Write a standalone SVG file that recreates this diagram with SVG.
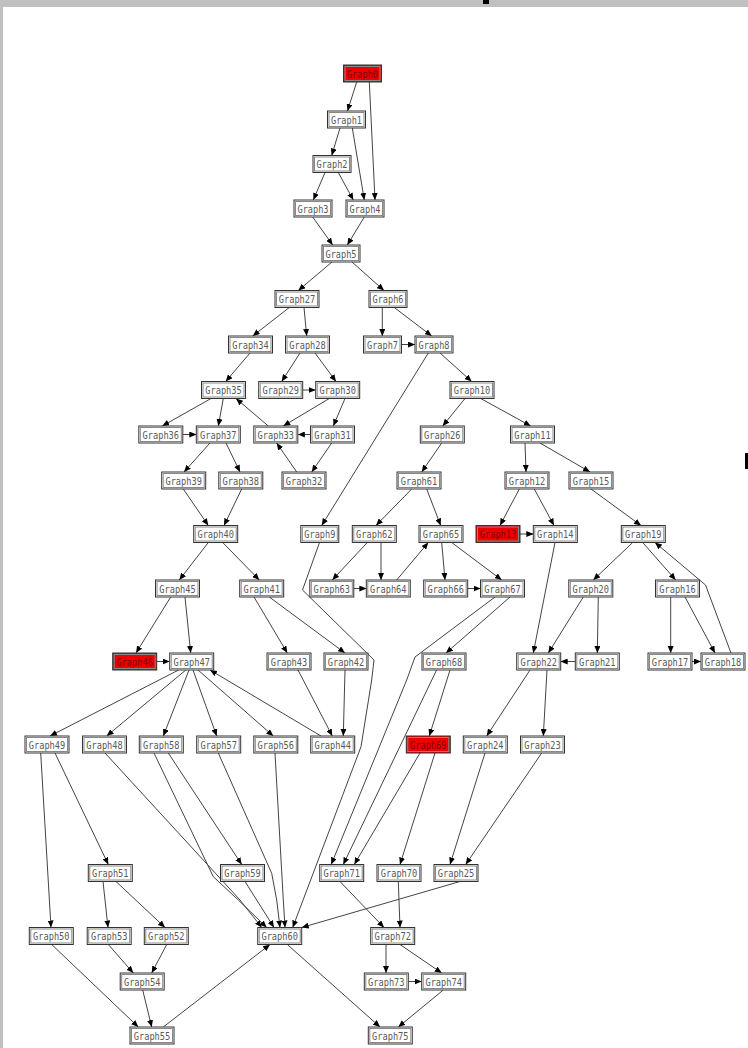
<svg xmlns="http://www.w3.org/2000/svg" width="748" height="1048" viewBox="0 0 748 1048">
<style>
.bg{fill:#fff}
.frame{fill:#c0c0c0}
.node rect.o{fill:#fff;stroke:#333;stroke-width:1}
.node rect.i{fill:none;stroke:#888;stroke-width:1}
.node.red rect.o{fill:#ee0000}
.node text{font-family:"DejaVu Sans Mono","Liberation Mono",monospace;font-size:10.5px;fill:#5a5a5a;text-anchor:middle}
.node.red text{fill:#800000}
#edges polyline{fill:none;stroke:#444;stroke-width:1;marker-end:url(#arr)}
</style>
<defs>
<marker id="arr" markerUnits="userSpaceOnUse" markerWidth="7" markerHeight="6" refX="7" refY="3" orient="auto"><path d="M0,0 L7,3 L0,6 z" fill="#000"/></marker>
</defs>
<rect class="bg" x="0" y="0" width="748" height="1048"/>
<rect class="frame" x="0" y="0" width="748" height="7"/>
<rect class="frame" x="0" y="0" width="3" height="1048"/>
<rect x="483" y="0" width="6" height="4" fill="#000"/>
<rect x="745" y="453" width="3" height="16" fill="#000"/>
<g id="edges">
<polyline points="356.7,82 347.5,111"/>
<polyline points="369.3,82 375,200"/>
<polyline points="340,128 331.7,155.5"/>
<polyline points="352.3,128 364.3,200"/>
<polyline points="325,172.5 313.3,200"/>
<polyline points="338.3,172.5 353.3,200"/>
<polyline points="312.7,217 332.7,245"/>
<polyline points="364.3,217 347.3,245"/>
<polyline points="332,262 298.3,290.5"/>
<polyline points="352,262 384,290.5"/>
<polyline points="289.3,307.5 252.7,336"/>
<polyline points="304,307.5 306.7,336"/>
<polyline points="382.3,307.5 382.3,336"/>
<polyline points="394.3,307.5 431.7,336"/>
<polyline points="401.5,344.5 415,344.5"/>
<polyline points="250,353 225.7,381.5"/>
<polyline points="300,353 281.7,381.5"/>
<polyline points="315,353 336,381.5"/>
<polyline points="302.7,390 315.7,390"/>
<polyline points="440,353 471.7,381.5"/>
<polyline points="428.3,353 321.7,525.5"/>
<polyline points="211,398.5 162.3,426"/>
<polyline points="223.3,398.5 218.3,426"/>
<polyline points="268.3,426 236,398.5"/>
<polyline points="329.3,398.5 283.3,426"/>
<polyline points="345,398.5 333.3,426"/>
<polyline points="310.5,434.5 297.8,434.5"/>
<polyline points="182.8,434.5 196.3,434.5"/>
<polyline points="331.7,443 311.7,472"/>
<polyline points="296.7,472 276.7,443"/>
<polyline points="210,443 184,472"/>
<polyline points="226,443 240,472"/>
<polyline points="465,398.5 442.7,426"/>
<polyline points="480.7,398.5 530.7,426"/>
<polyline points="441.7,443 421.7,472"/>
<polyline points="525,443 526,472"/>
<polyline points="540,443 590,472"/>
<polyline points="183.3,489 208.3,525.5"/>
<polyline points="241.7,489 224,525.5"/>
<polyline points="411.7,489 376,525.5"/>
<polyline points="426.7,489 440.7,525.5"/>
<polyline points="519.3,489 500,525.5"/>
<polyline points="534.3,489 554,525.5"/>
<polyline points="520,534 533.3,534"/>
<polyline points="591,489 641,525.5"/>
<polyline points="208.3,542.5 179.3,580"/>
<polyline points="222.7,542.5 259.3,580"/>
<polyline points="367.3,542.5 332.3,580"/>
<polyline points="381,542.5 381,580"/>
<polyline points="353.8,588.5 366.3,588.5"/>
<polyline points="396.7,580 428.3,542.5"/>
<polyline points="441.7,542.5 445,580"/>
<polyline points="451.7,542.5 501.7,580"/>
<polyline points="467.7,588.5 480.5,588.5"/>
<polyline points="632.7,542.5 593.3,580"/>
<polyline points="642.7,542.5 675.7,580"/>
<polyline points="731,653 705.5,585 655,542.5"/>
<polyline points="555,542.5 533.3,653"/>
<polyline points="170.7,597 136,653"/>
<polyline points="185,597 190.7,653"/>
<polyline points="156.7,661.5 169.7,661.5"/>
<polyline points="254,597 287.3,653"/>
<polyline points="269.3,597 345,653"/>
<polyline points="510,597 446,653"/>
<polyline points="495,597 415,657 406.7,680 331.2,864.5"/>
<polyline points="319.5,542.5 302.5,590 374,660 371.7,680 361,746.7 292.7,927.5"/>
<polyline points="583.3,597 548.3,653"/>
<polyline points="598.3,597 597.3,653"/>
<polyline points="575.3,661.5 560.7,661.5"/>
<polyline points="670.7,597 670.7,653"/>
<polyline points="685,597 715,653"/>
<polyline points="692,661.5 701,661.5"/>
<polyline points="450,670 429.3,736"/>
<polyline points="436.6,670 343.3,864.5"/>
<polyline points="530,670 486.7,736"/>
<polyline points="547,670 543.3,736"/>
<polyline points="345,670 343.3,736"/>
<polyline points="298,670 332.3,736"/>
<polyline points="321,736 210,670"/>
<polyline points="178.6,670 50,736"/>
<polyline points="185.8,670 106.7,736"/>
<polyline points="189,670 163.3,736"/>
<polyline points="193,670 216.7,736"/>
<polyline points="198,670 273.3,736"/>
<polyline points="420,753 354.3,864.5"/>
<polyline points="435,753 400,864.5"/>
<polyline points="485,753 450,864.5"/>
<polyline points="541.7,753 465.7,864.5"/>
<polyline points="40.7,753 51,927.5"/>
<polyline points="55,753 108.3,864.5"/>
<polyline points="105,753 240,900 261.7,927.5"/>
<polyline points="154,753 213.3,876.7 238.3,900 266.7,927.5"/>
<polyline points="168.3,753 241.7,864.5"/>
<polyline points="218.3,753 271.7,873.3 276.7,900 280,927.5"/>
<polyline points="275,753 283.3,900 285,927.5"/>
<polyline points="245,881.5 274,927.5"/>
<polyline points="460,881.5 301.7,927.5"/>
<polyline points="163.3,1027 270,944.5"/>
<polyline points="287.3,944.5 380,1027"/>
<polyline points="51.7,944.5 138.3,1027"/>
<polyline points="108.3,944.5 133.3,973"/>
<polyline points="166.7,944.5 151.7,973"/>
<polyline points="142.7,990 151.7,1027"/>
<polyline points="103,881.5 108,927.5"/>
<polyline points="116,881.5 165,927.5"/>
<polyline points="340,881.5 384,927.5"/>
<polyline points="398.3,881.5 400,927.5"/>
<polyline points="386,944.5 386,973"/>
<polyline points="400,944.5 441.7,973"/>
<polyline points="408.3,981.5 421.7,981.5"/>
<polyline points="443.3,990 398.3,1027"/>
</g>
<g id="n0" class="node red"><rect class="o" x="343.5" y="65" width="38" height="17"/><rect class="i" x="345" y="66.5" width="35" height="14"/><text x="362.5" y="77.5" textLength="31" lengthAdjust="spacingAndGlyphs">Graph0</text></g>
<g id="n1" class="node"><rect class="o" x="327.5" y="111" width="38" height="17"/><rect class="i" x="329" y="112.5" width="35" height="14"/><text x="346.5" y="123.5" textLength="31" lengthAdjust="spacingAndGlyphs">Graph1</text></g>
<g id="n2" class="node"><rect class="o" x="313" y="155.5" width="38" height="17"/><rect class="i" x="314.5" y="157" width="35" height="14"/><text x="332" y="168" textLength="31" lengthAdjust="spacingAndGlyphs">Graph2</text></g>
<g id="n3" class="node"><rect class="o" x="294" y="200" width="38" height="17"/><rect class="i" x="295.5" y="201.5" width="35" height="14"/><text x="313" y="212.5" textLength="31" lengthAdjust="spacingAndGlyphs">Graph3</text></g>
<g id="n4" class="node"><rect class="o" x="346" y="200" width="38" height="17"/><rect class="i" x="347.5" y="201.5" width="35" height="14"/><text x="365" y="212.5" textLength="31" lengthAdjust="spacingAndGlyphs">Graph4</text></g>
<g id="n5" class="node"><rect class="o" x="322" y="245" width="38" height="17"/><rect class="i" x="323.5" y="246.5" width="35" height="14"/><text x="341" y="257.5" textLength="31" lengthAdjust="spacingAndGlyphs">Graph5</text></g>
<g id="n27" class="node"><rect class="o" x="275" y="290.5" width="44" height="17"/><rect class="i" x="276.5" y="292" width="41" height="14"/><text x="297" y="303" textLength="36.5" lengthAdjust="spacingAndGlyphs">Graph27</text></g>
<g id="n6" class="node"><rect class="o" x="369" y="290.5" width="38" height="17"/><rect class="i" x="370.5" y="292" width="35" height="14"/><text x="388" y="303" textLength="31" lengthAdjust="spacingAndGlyphs">Graph6</text></g>
<g id="n34" class="node"><rect class="o" x="228.5" y="336" width="44" height="17"/><rect class="i" x="230" y="337.5" width="41" height="14"/><text x="250.5" y="348.5" textLength="36.5" lengthAdjust="spacingAndGlyphs">Graph34</text></g>
<g id="n28" class="node"><rect class="o" x="285.5" y="336" width="44" height="17"/><rect class="i" x="287" y="337.5" width="41" height="14"/><text x="307.5" y="348.5" textLength="36.5" lengthAdjust="spacingAndGlyphs">Graph28</text></g>
<g id="n7" class="node"><rect class="o" x="363.5" y="336" width="38" height="17"/><rect class="i" x="365" y="337.5" width="35" height="14"/><text x="382.5" y="348.5" textLength="31" lengthAdjust="spacingAndGlyphs">Graph7</text></g>
<g id="n8" class="node"><rect class="o" x="415" y="336" width="38" height="17"/><rect class="i" x="416.5" y="337.5" width="35" height="14"/><text x="434" y="348.5" textLength="31" lengthAdjust="spacingAndGlyphs">Graph8</text></g>
<g id="n35" class="node"><rect class="o" x="201.5" y="381.5" width="44" height="17"/><rect class="i" x="203" y="383" width="41" height="14"/><text x="223.5" y="394" textLength="36.5" lengthAdjust="spacingAndGlyphs">Graph35</text></g>
<g id="n29" class="node"><rect class="o" x="258.7" y="381.5" width="44" height="17"/><rect class="i" x="260.2" y="383" width="41" height="14"/><text x="280.7" y="394" textLength="36.5" lengthAdjust="spacingAndGlyphs">Graph29</text></g>
<g id="n30" class="node"><rect class="o" x="315.7" y="381.5" width="44" height="17"/><rect class="i" x="317.2" y="383" width="41" height="14"/><text x="337.7" y="394" textLength="36.5" lengthAdjust="spacingAndGlyphs">Graph30</text></g>
<g id="n10" class="node"><rect class="o" x="450" y="381.5" width="44" height="17"/><rect class="i" x="451.5" y="383" width="41" height="14"/><text x="472" y="394" textLength="36.5" lengthAdjust="spacingAndGlyphs">Graph10</text></g>
<g id="n36" class="node"><rect class="o" x="138.8" y="426" width="44" height="17"/><rect class="i" x="140.3" y="427.5" width="41" height="14"/><text x="160.8" y="438.5" textLength="36.5" lengthAdjust="spacingAndGlyphs">Graph36</text></g>
<g id="n37" class="node"><rect class="o" x="196.3" y="426" width="44" height="17"/><rect class="i" x="197.8" y="427.5" width="41" height="14"/><text x="218.3" y="438.5" textLength="36.5" lengthAdjust="spacingAndGlyphs">Graph37</text></g>
<g id="n33" class="node"><rect class="o" x="253.8" y="426" width="44" height="17"/><rect class="i" x="255.3" y="427.5" width="41" height="14"/><text x="275.8" y="438.5" textLength="36.5" lengthAdjust="spacingAndGlyphs">Graph33</text></g>
<g id="n31" class="node"><rect class="o" x="310.5" y="426" width="44" height="17"/><rect class="i" x="312" y="427.5" width="41" height="14"/><text x="332.5" y="438.5" textLength="36.5" lengthAdjust="spacingAndGlyphs">Graph31</text></g>
<g id="n26" class="node"><rect class="o" x="420.3" y="426" width="44" height="17"/><rect class="i" x="421.8" y="427.5" width="41" height="14"/><text x="442.3" y="438.5" textLength="36.5" lengthAdjust="spacingAndGlyphs">Graph26</text></g>
<g id="n11" class="node"><rect class="o" x="510.5" y="426" width="44" height="17"/><rect class="i" x="512" y="427.5" width="41" height="14"/><text x="532.5" y="438.5" textLength="36.5" lengthAdjust="spacingAndGlyphs">Graph11</text></g>
<g id="n39" class="node"><rect class="o" x="161.7" y="472" width="44" height="17"/><rect class="i" x="163.2" y="473.5" width="41" height="14"/><text x="183.7" y="484.5" textLength="36.5" lengthAdjust="spacingAndGlyphs">Graph39</text></g>
<g id="n38" class="node"><rect class="o" x="218.8" y="472" width="44" height="17"/><rect class="i" x="220.3" y="473.5" width="41" height="14"/><text x="240.8" y="484.5" textLength="36.5" lengthAdjust="spacingAndGlyphs">Graph38</text></g>
<g id="n32" class="node"><rect class="o" x="282" y="472" width="44" height="17"/><rect class="i" x="283.5" y="473.5" width="41" height="14"/><text x="304" y="484.5" textLength="36.5" lengthAdjust="spacingAndGlyphs">Graph32</text></g>
<g id="n61" class="node"><rect class="o" x="397" y="472" width="44" height="17"/><rect class="i" x="398.5" y="473.5" width="41" height="14"/><text x="419" y="484.5" textLength="36.5" lengthAdjust="spacingAndGlyphs">Graph61</text></g>
<g id="n12" class="node"><rect class="o" x="505" y="472" width="44" height="17"/><rect class="i" x="506.5" y="473.5" width="41" height="14"/><text x="527" y="484.5" textLength="36.5" lengthAdjust="spacingAndGlyphs">Graph12</text></g>
<g id="n15" class="node"><rect class="o" x="569" y="472" width="44" height="17"/><rect class="i" x="570.5" y="473.5" width="41" height="14"/><text x="591" y="484.5" textLength="36.5" lengthAdjust="spacingAndGlyphs">Graph15</text></g>
<g id="n40" class="node"><rect class="o" x="193.7" y="525.5" width="44" height="17"/><rect class="i" x="195.2" y="527" width="41" height="14"/><text x="215.7" y="538" textLength="36.5" lengthAdjust="spacingAndGlyphs">Graph40</text></g>
<g id="n9" class="node"><rect class="o" x="300.8" y="525.5" width="38" height="17"/><rect class="i" x="302.3" y="527" width="35" height="14"/><text x="319.8" y="538" textLength="31" lengthAdjust="spacingAndGlyphs">Graph9</text></g>
<g id="n62" class="node"><rect class="o" x="352.3" y="525.5" width="44" height="17"/><rect class="i" x="353.8" y="527" width="41" height="14"/><text x="374.3" y="538" textLength="36.5" lengthAdjust="spacingAndGlyphs">Graph62</text></g>
<g id="n65" class="node"><rect class="o" x="419" y="525.5" width="44" height="17"/><rect class="i" x="420.5" y="527" width="41" height="14"/><text x="441" y="538" textLength="36.5" lengthAdjust="spacingAndGlyphs">Graph65</text></g>
<g id="n13" class="node red"><rect class="o" x="476" y="525.5" width="44" height="17"/><rect class="i" x="477.5" y="527" width="41" height="14"/><text x="498" y="538" textLength="36.5" lengthAdjust="spacingAndGlyphs">Graph13</text></g>
<g id="n14" class="node"><rect class="o" x="533.3" y="525.5" width="44" height="17"/><rect class="i" x="534.8" y="527" width="41" height="14"/><text x="555.3" y="538" textLength="36.5" lengthAdjust="spacingAndGlyphs">Graph14</text></g>
<g id="n19" class="node"><rect class="o" x="621.3" y="525.5" width="44" height="17"/><rect class="i" x="622.8" y="527" width="41" height="14"/><text x="643.3" y="538" textLength="36.5" lengthAdjust="spacingAndGlyphs">Graph19</text></g>
<g id="n45" class="node"><rect class="o" x="155.5" y="580" width="44" height="17"/><rect class="i" x="157" y="581.5" width="41" height="14"/><text x="177.5" y="592.5" textLength="36.5" lengthAdjust="spacingAndGlyphs">Graph45</text></g>
<g id="n41" class="node"><rect class="o" x="239.7" y="580" width="44" height="17"/><rect class="i" x="241.2" y="581.5" width="41" height="14"/><text x="261.7" y="592.5" textLength="36.5" lengthAdjust="spacingAndGlyphs">Graph41</text></g>
<g id="n63" class="node"><rect class="o" x="309.8" y="580" width="44" height="17"/><rect class="i" x="311.3" y="581.5" width="41" height="14"/><text x="331.8" y="592.5" textLength="36.5" lengthAdjust="spacingAndGlyphs">Graph63</text></g>
<g id="n64" class="node"><rect class="o" x="366.3" y="580" width="44" height="17"/><rect class="i" x="367.8" y="581.5" width="41" height="14"/><text x="388.3" y="592.5" textLength="36.5" lengthAdjust="spacingAndGlyphs">Graph64</text></g>
<g id="n66" class="node"><rect class="o" x="423.7" y="580" width="44" height="17"/><rect class="i" x="425.2" y="581.5" width="41" height="14"/><text x="445.7" y="592.5" textLength="36.5" lengthAdjust="spacingAndGlyphs">Graph66</text></g>
<g id="n67" class="node"><rect class="o" x="480.5" y="580" width="44" height="17"/><rect class="i" x="482" y="581.5" width="41" height="14"/><text x="502.5" y="592.5" textLength="36.5" lengthAdjust="spacingAndGlyphs">Graph67</text></g>
<g id="n20" class="node"><rect class="o" x="568.8" y="580" width="44" height="17"/><rect class="i" x="570.3" y="581.5" width="41" height="14"/><text x="590.8" y="592.5" textLength="36.5" lengthAdjust="spacingAndGlyphs">Graph20</text></g>
<g id="n16" class="node"><rect class="o" x="655.5" y="580" width="44" height="17"/><rect class="i" x="657" y="581.5" width="41" height="14"/><text x="677.5" y="592.5" textLength="36.5" lengthAdjust="spacingAndGlyphs">Graph16</text></g>
<g id="n46" class="node red"><rect class="o" x="112.7" y="653" width="44" height="17"/><rect class="i" x="114.2" y="654.5" width="41" height="14"/><text x="134.7" y="665.5" textLength="36.5" lengthAdjust="spacingAndGlyphs">Graph46</text></g>
<g id="n47" class="node"><rect class="o" x="169.7" y="653" width="44" height="17"/><rect class="i" x="171.2" y="654.5" width="41" height="14"/><text x="191.7" y="665.5" textLength="36.5" lengthAdjust="spacingAndGlyphs">Graph47</text></g>
<g id="n43" class="node"><rect class="o" x="267" y="653" width="44" height="17"/><rect class="i" x="268.5" y="654.5" width="41" height="14"/><text x="289" y="665.5" textLength="36.5" lengthAdjust="spacingAndGlyphs">Graph43</text></g>
<g id="n42" class="node"><rect class="o" x="324" y="653" width="44" height="17"/><rect class="i" x="325.5" y="654.5" width="41" height="14"/><text x="346" y="665.5" textLength="36.5" lengthAdjust="spacingAndGlyphs">Graph42</text></g>
<g id="n68" class="node"><rect class="o" x="422" y="653" width="44" height="17"/><rect class="i" x="423.5" y="654.5" width="41" height="14"/><text x="444" y="665.5" textLength="36.5" lengthAdjust="spacingAndGlyphs">Graph68</text></g>
<g id="n22" class="node"><rect class="o" x="516.7" y="653" width="44" height="17"/><rect class="i" x="518.2" y="654.5" width="41" height="14"/><text x="538.7" y="665.5" textLength="36.5" lengthAdjust="spacingAndGlyphs">Graph22</text></g>
<g id="n21" class="node"><rect class="o" x="575.3" y="653" width="44" height="17"/><rect class="i" x="576.8" y="654.5" width="41" height="14"/><text x="597.3" y="665.5" textLength="36.5" lengthAdjust="spacingAndGlyphs">Graph21</text></g>
<g id="n17" class="node"><rect class="o" x="648" y="653" width="44" height="17"/><rect class="i" x="649.5" y="654.5" width="41" height="14"/><text x="670" y="665.5" textLength="36.5" lengthAdjust="spacingAndGlyphs">Graph17</text></g>
<g id="n18" class="node"><rect class="o" x="701" y="653" width="44" height="17"/><rect class="i" x="702.5" y="654.5" width="41" height="14"/><text x="723" y="665.5" textLength="36.5" lengthAdjust="spacingAndGlyphs">Graph18</text></g>
<g id="n49" class="node"><rect class="o" x="25" y="736" width="44" height="17"/><rect class="i" x="26.5" y="737.5" width="41" height="14"/><text x="47" y="748.5" textLength="36.5" lengthAdjust="spacingAndGlyphs">Graph49</text></g>
<g id="n48" class="node"><rect class="o" x="82.5" y="736" width="44" height="17"/><rect class="i" x="84" y="737.5" width="41" height="14"/><text x="104.5" y="748.5" textLength="36.5" lengthAdjust="spacingAndGlyphs">Graph48</text></g>
<g id="n58" class="node"><rect class="o" x="139.3" y="736" width="44" height="17"/><rect class="i" x="140.8" y="737.5" width="41" height="14"/><text x="161.3" y="748.5" textLength="36.5" lengthAdjust="spacingAndGlyphs">Graph58</text></g>
<g id="n57" class="node"><rect class="o" x="196.7" y="736" width="44" height="17"/><rect class="i" x="198.2" y="737.5" width="41" height="14"/><text x="218.7" y="748.5" textLength="36.5" lengthAdjust="spacingAndGlyphs">Graph57</text></g>
<g id="n56" class="node"><rect class="o" x="253.8" y="736" width="44" height="17"/><rect class="i" x="255.3" y="737.5" width="41" height="14"/><text x="275.8" y="748.5" textLength="36.5" lengthAdjust="spacingAndGlyphs">Graph56</text></g>
<g id="n44" class="node"><rect class="o" x="310.7" y="736" width="44" height="17"/><rect class="i" x="312.2" y="737.5" width="41" height="14"/><text x="332.7" y="748.5" textLength="36.5" lengthAdjust="spacingAndGlyphs">Graph44</text></g>
<g id="n69" class="node red"><rect class="o" x="406.3" y="736" width="44" height="17"/><rect class="i" x="407.8" y="737.5" width="41" height="14"/><text x="428.3" y="748.5" textLength="36.5" lengthAdjust="spacingAndGlyphs">Graph69</text></g>
<g id="n24" class="node"><rect class="o" x="463.3" y="736" width="44" height="17"/><rect class="i" x="464.8" y="737.5" width="41" height="14"/><text x="485.3" y="748.5" textLength="36.5" lengthAdjust="spacingAndGlyphs">Graph24</text></g>
<g id="n23" class="node"><rect class="o" x="520.5" y="736" width="44" height="17"/><rect class="i" x="522" y="737.5" width="41" height="14"/><text x="542.5" y="748.5" textLength="36.5" lengthAdjust="spacingAndGlyphs">Graph23</text></g>
<g id="n51" class="node"><rect class="o" x="88.3" y="864.5" width="44" height="17"/><rect class="i" x="89.8" y="866" width="41" height="14"/><text x="110.3" y="877" textLength="36.5" lengthAdjust="spacingAndGlyphs">Graph51</text></g>
<g id="n59" class="node"><rect class="o" x="220.5" y="864.5" width="44" height="17"/><rect class="i" x="222" y="866" width="41" height="14"/><text x="242.5" y="877" textLength="36.5" lengthAdjust="spacingAndGlyphs">Graph59</text></g>
<g id="n71" class="node"><rect class="o" x="319.7" y="864.5" width="44" height="17"/><rect class="i" x="321.2" y="866" width="41" height="14"/><text x="341.7" y="877" textLength="36.5" lengthAdjust="spacingAndGlyphs">Graph71</text></g>
<g id="n70" class="node"><rect class="o" x="377" y="864.5" width="44" height="17"/><rect class="i" x="378.5" y="866" width="41" height="14"/><text x="399" y="877" textLength="36.5" lengthAdjust="spacingAndGlyphs">Graph70</text></g>
<g id="n25" class="node"><rect class="o" x="434" y="864.5" width="44" height="17"/><rect class="i" x="435.5" y="866" width="41" height="14"/><text x="456" y="877" textLength="36.5" lengthAdjust="spacingAndGlyphs">Graph25</text></g>
<g id="n50" class="node"><rect class="o" x="29.3" y="927.5" width="44" height="17"/><rect class="i" x="30.8" y="929" width="41" height="14"/><text x="51.3" y="940" textLength="36.5" lengthAdjust="spacingAndGlyphs">Graph50</text></g>
<g id="n53" class="node"><rect class="o" x="87.2" y="927.5" width="44" height="17"/><rect class="i" x="88.7" y="929" width="41" height="14"/><text x="109.2" y="940" textLength="36.5" lengthAdjust="spacingAndGlyphs">Graph53</text></g>
<g id="n52" class="node"><rect class="o" x="144.3" y="927.5" width="44" height="17"/><rect class="i" x="145.8" y="929" width="41" height="14"/><text x="166.3" y="940" textLength="36.5" lengthAdjust="spacingAndGlyphs">Graph52</text></g>
<g id="n60" class="node"><rect class="o" x="257.7" y="927.5" width="44" height="17"/><rect class="i" x="259.2" y="929" width="41" height="14"/><text x="279.7" y="940" textLength="36.5" lengthAdjust="spacingAndGlyphs">Graph60</text></g>
<g id="n72" class="node"><rect class="o" x="370.7" y="927.5" width="44" height="17"/><rect class="i" x="372.2" y="929" width="41" height="14"/><text x="392.7" y="940" textLength="36.5" lengthAdjust="spacingAndGlyphs">Graph72</text></g>
<g id="n54" class="node"><rect class="o" x="120.2" y="973" width="44" height="17"/><rect class="i" x="121.7" y="974.5" width="41" height="14"/><text x="142.2" y="985.5" textLength="36.5" lengthAdjust="spacingAndGlyphs">Graph54</text></g>
<g id="n73" class="node"><rect class="o" x="364.3" y="973" width="44" height="17"/><rect class="i" x="365.8" y="974.5" width="41" height="14"/><text x="386.3" y="985.5" textLength="36.5" lengthAdjust="spacingAndGlyphs">Graph73</text></g>
<g id="n74" class="node"><rect class="o" x="421.7" y="973" width="44" height="17"/><rect class="i" x="423.2" y="974.5" width="41" height="14"/><text x="443.7" y="985.5" textLength="36.5" lengthAdjust="spacingAndGlyphs">Graph74</text></g>
<g id="n55" class="node"><rect class="o" x="130" y="1027" width="44" height="17"/><rect class="i" x="131.5" y="1028.5" width="41" height="14"/><text x="152" y="1039.5" textLength="36.5" lengthAdjust="spacingAndGlyphs">Graph55</text></g>
<g id="n75" class="node"><rect class="o" x="368.3" y="1027" width="44" height="17"/><rect class="i" x="369.8" y="1028.5" width="41" height="14"/><text x="390.3" y="1039.5" textLength="36.5" lengthAdjust="spacingAndGlyphs">Graph75</text></g>
</svg>
